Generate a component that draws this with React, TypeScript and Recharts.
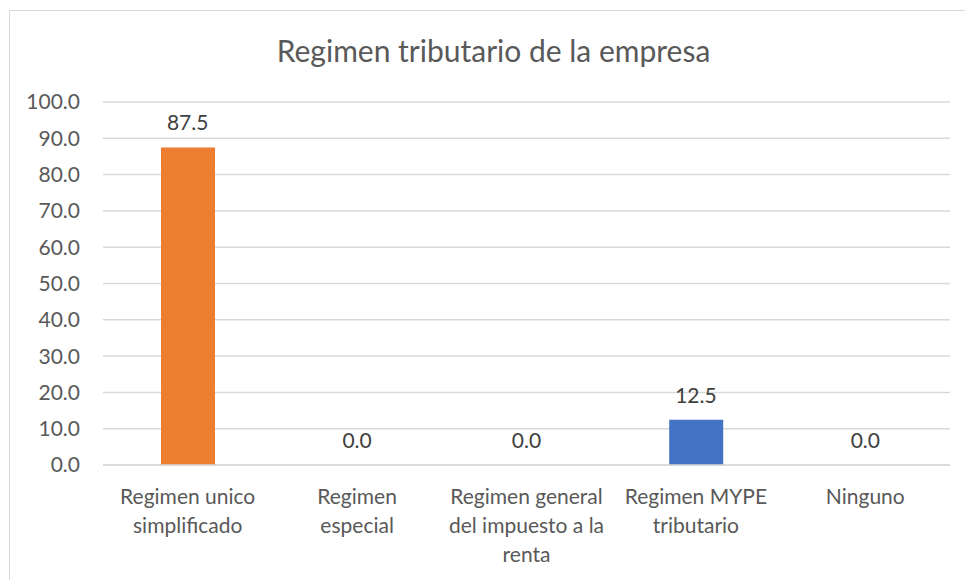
import { ComposedChart, Bar, Line, XAxis, YAxis, CartesianGrid, Cell, LabelList } from "recharts";

// categories (line breaks follow the wrapping in the original chart)
const categories = [
  "Regimen unico\nsimplificado",
  "Regimen\nespecial",
  "Regimen general\ndel impuesto a la\nrenta",
  "Regimen MYPE\ntributario",
  "Ninguno",
];
const percentages = [87.5, 0.0, 0.0, 12.5, 0.0];
const barColors = ["#ED7D31", "#A5A5A5", "#FFC000", "#4472C4", "#5B9BD5"];
const yTicks = [0, 10, 20, 30, 40, 50, 60, 70, 80, 90, 100];

const FONT = "Lato, 'Open Sans', sans-serif";
const TEXT = "#595959";

const data = categories.map((name, i) => ({ name, value: percentages[i] }));

function CategoryTick(props: any) {
  const { x, y, payload } = props;
  const lines = String(payload.value).split("\n");
  return (
    <text x={x} y={y} textAnchor="middle" fill={TEXT} fontSize={21} fontFamily={FONT}>
      {lines.map((line, i) => (
        <tspan key={i} x={x} y={y + 39 + i * 29}>
          {line}
        </tspan>
      ))}
    </text>
  );
}

export default function App() {
  return (
    <div
      style={{
        position: "fixed",
        top: 0,
        left: 0,
        width: 965,
        height: 580,
        overflow: "hidden",
        background: "#fff",
      }}
    >
      <div
        style={{
          position: "absolute",
          left: 9,
          top: 10,
          width: 1000,
          height: 640,
          border: "1px solid #d9d9d9",
          boxSizing: "border-box",
        }}
      />
      <div
        style={{
          position: "absolute",
          left: 0,
          width: 987,
          top: 31,
          textAlign: "center",
          fontFamily: FONT,
          fontSize: 30,
          color: TEXT,
          lineHeight: "38px",
        }}
      >
        Regimen tributario de la empresa
      </div>
      <div style={{ position: "absolute", left: 0, top: 0 }}>
        <ComposedChart
          width={965}
          height={580}
          data={data}
          margin={{ top: 102, right: 15, bottom: 15, left: 0 }}
        >
          <CartesianGrid vertical={false} stroke="#d9d9d9" strokeWidth={1.5} />
          <XAxis
            dataKey="name"
            height={100}
            interval={0}
            tickLine={false}
            tickSize={0}
            tickMargin={0}
            axisLine={{ stroke: "#d9d9d9", strokeWidth: 1.5 }}
            tick={<CategoryTick />}
          />
          <YAxis
            width={103}
            domain={[0, 100]}
            ticks={yTicks}
            interval={0}
            axisLine={false}
            tickLine={false}
            tickSize={0}
            tickMargin={23}
            tickFormatter={(v: number) => v.toFixed(1)}
            tick={{ fill: TEXT, fontSize: 21, fontFamily: FONT }}
          />
          <Bar dataKey="value" barSize={54} isAnimationActive={false}>
            {data.map((_, i) => (
              <Cell key={`cell-${i}`} fill={barColors[i]} />
            ))}
          </Bar>
          {/* invisible line used only to carry the data labels (zero bars included) */}
          <Line
            dataKey="value"
            stroke="none"
            dot={false}
            activeDot={false}
            legendType="none"
            isAnimationActive={false}
          >
            <LabelList
              dataKey="value"
              position="top"
              offset={17}
              fill="#404040"
              fontSize={21}
              fontFamily={FONT}
              formatter={(v: any) => Number(v).toFixed(1)}
            />
          </Line>
        </ComposedChart>
      </div>
    </div>
  );
}
